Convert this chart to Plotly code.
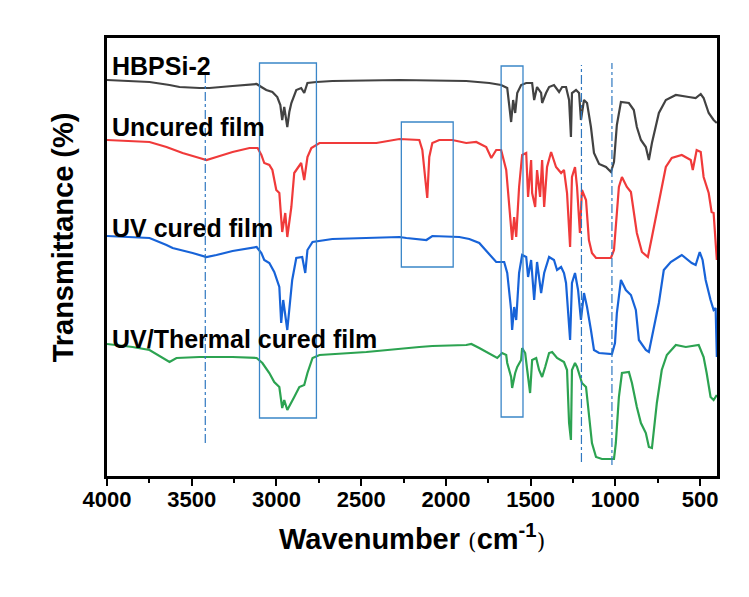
import plotly.graph_objects as go

# ---------------- data (wavenumber in cm-1, transmittance in arbitrary stacked units) -------------
hb_wn = [4000, 3749, 3631, 3572, 3454, 3395, 3259, 3117, 3089, 3060, 3024, 2995, 2977, 2966, 2954, 2936,
         2924, 2912, 2883, 2854, 2836, 2817, 2764, 2670, 2274, 1880, 1744, 1674, 1638, 1615, 1603, 1591,
         1579, 1556, 1526, 1491, 1479, 1462, 1438, 1432, 1409, 1391, 1362, 1332, 1314, 1291, 1273, 1262,
         1256, 1232, 1214, 1203, 1185, 1167, 1144, 1126, 1096, 1055, 1026, 1008, 991, 967, 920, 891, 873,
         849, 820, 802, 784, 743, 702, 643, 567, 526, 496, 479, 449, 420, 401]
hb_t = [397, 395, 392, 390, 389, 389, 391, 393, 390, 387, 385, 380, 372, 357, 370, 350,
        365, 374, 387, 389, 384, 394, 395, 396, 397, 396, 394, 392, 389, 355, 377, 364,
        384, 392, 394, 394, 377, 390, 384, 374, 384, 390, 392, 385, 390, 390, 377, 340,
        384, 387, 384, 357, 377, 374, 350, 324, 313, 310, 305, 315, 352, 375, 374, 367, 350,
        337, 330, 317, 334, 364, 377, 382, 380, 379, 383, 379, 364, 357, 354]

un_wn = [4000, 3749, 3649, 3554, 3454, 3413, 3354, 3259, 3159, 3111, 3089, 3072, 3042, 3024, 3001, 2983,
         2966, 2948, 2936, 2912, 2895, 2854, 2836, 2817, 2794, 2746, 2410, 2274, 2157, 2139, 2121, 2110,
         2098, 2080, 2039, 1962, 1880, 1821, 1762, 1732, 1703, 1674, 1644, 1627, 1609, 1597, 1585, 1568,
         1550, 1526, 1515, 1497, 1491, 1473, 1462, 1444, 1432, 1420, 1403, 1379, 1350, 1320, 1303, 1285,
         1267, 1256, 1238, 1226, 1209, 1197, 1173, 1156, 1138, 1114, 1026, 1008, 997, 979, 961, 932, 908,
         891, 873, 843, 808, 784, 743, 702, 667, 608, 555, 543, 520, 496, 479, 449, 432, 420, 401]
un_t = [337, 335, 330, 324, 319, 317, 320, 325, 329, 329, 322, 314, 312, 307, 287, 284,
        245, 264, 240, 270, 304, 314, 297, 320, 329, 334, 334, 338, 337, 327, 297, 279,
        320, 334, 337, 337, 334, 335, 330, 319, 327, 327, 307, 270, 237, 260, 240, 290,
        322, 324, 280, 317, 284, 270, 307, 280, 317, 270, 310, 325, 310, 304, 307, 284,
        230, 300, 310, 290, 244, 287, 277, 237, 224, 219, 219, 227, 254, 290, 300, 290, 285,
        267, 244, 225, 220, 240, 277, 310, 319, 322, 317, 307, 327, 325, 300, 284, 265, 264, 217]

uv_wn = [4000, 3749, 3649, 3613, 3495, 3413, 3354, 3259, 3117, 3089, 3072, 3042, 3013, 2983, 2972, 2960,
         2936, 2918, 2907, 2883, 2848, 2830, 2817, 2787, 2670, 2274, 2233, 2115, 2080, 1921, 1862, 1803,
         1756, 1744, 1703, 1656, 1638, 1615, 1609, 1597, 1585, 1568, 1550, 1526, 1515, 1497, 1479, 1462,
         1438, 1420, 1391, 1362, 1344, 1320, 1303, 1291, 1267, 1256, 1238, 1220, 1203, 1185, 1167, 1144,
         1126, 1096, 1020, 1002, 991, 967, 938, 908, 879, 861, 820, 802, 773, 743, 714, 673, 608, 549,
         526, 502, 485, 467, 438, 420, 408, 401]
uv_t = [241, 239, 232, 229, 224, 220, 222, 226, 230, 224, 217, 214, 205, 190, 154, 177,
        147, 177, 197, 219, 220, 204, 227, 235, 238, 240, 239, 237, 241, 240, 238, 234,
        225, 222, 215, 215, 204, 167, 147, 170, 157, 204, 222, 220, 200, 217, 177, 215,
        184, 204, 220, 217, 207, 210, 204, 194, 137, 194, 204, 187, 157, 184, 170, 147,
        127, 124, 123, 134, 164, 197, 187, 182, 167, 137, 127, 125, 150, 174, 207, 215, 222, 214,
        212, 225, 217, 197, 177, 167, 169, 120]

th_wn = [4000, 3849, 3749, 3678, 3631, 3590, 3454, 3259, 3117, 3083, 3042, 3013, 2983, 2966, 2954, 2936,
         2912, 2895, 2865, 2836, 2817, 2787, 2746, 2469, 2157, 2080, 1880, 1850, 1803, 1744, 1697, 1668,
         1644, 1638, 1615, 1609, 1591, 1579, 1556, 1550, 1532, 1520, 1503, 1491, 1467, 1450, 1432, 1414,
         1391, 1373, 1344, 1303, 1285, 1273, 1262, 1256, 1238, 1226, 1209, 1197, 1173, 1156, 1138, 1114,
         1079, 1008, 997, 979, 961, 920, 902, 873, 849, 820, 802, 784, 773, 755, 726, 696, 643, 584,
         508, 479, 461, 438, 420, 401]
th_t = [133, 130, 127, 120, 115, 119, 120, 120, 119, 114, 104, 95, 90, 69, 77, 67,
        74, 80, 90, 92, 104, 119, 122, 125, 130, 131, 132, 133, 129, 123, 119, 124,
        122, 114, 100, 89, 104, 110, 117, 129, 124, 107, 84, 117, 119, 107, 100, 110,
        124, 125, 119, 115, 107, 54, 37, 107, 114, 110, 100, 94, 90, 60, 34, 20,
        18, 18, 34, 80, 104, 105, 94, 70, 54, 44, 30, 29, 47, 74, 107, 122, 132, 130,
        132, 120, 104, 80, 77, 82]

series_names = ["HBPSi-2", "Uncured film", "UV cured film", "UV/Thermal cured film"]
series_colors = ["#424242", "#f03a3a", "#1763d8", "#2ca351"]
label_y = [411, 350, 249, 138]

# marker lines (dash-dot) : wavenumber, bottom, top
mark_wn = [3420, 1200, 1020]
mark_lo = [34, 15, 12]
mark_hi = [404, 412, 414]
# highlight boxes : wn left, wn right, bottom, top
box_x0 = [3100, 2263, 1674]
box_x1 = [2764, 1957, 1545]
box_y0 = [59, 210, 60]
box_y1 = [414, 355, 411]

FONT = "Liberation Sans, Arial, sans-serif"

fig = go.Figure()
for wn, t, name, col in zip([hb_wn, un_wn, uv_wn, th_wn], [hb_t, un_t, uv_t, th_t], series_names, series_colors):
    fig.add_trace(go.Scatter(x=wn, y=t, mode="lines", name=name,
                             line=dict(color=col, width=2.2), showlegend=False))

for w, lo, hi in zip(mark_wn, mark_lo, mark_hi):
    fig.add_shape(type="line", xref="x", yref="y", x0=w, x1=w, y0=lo, y1=hi,
                  line=dict(color="#2f78c0", width=1.2, dash="dashdot"))
for a, b, c, d in zip(box_x0, box_x1, box_y0, box_y1):
    fig.add_shape(type="rect", xref="x", yref="y", x0=a, x1=b, y0=c, y1=d,
                  line=dict(color="#3a86c8", width=1.3), fillcolor="rgba(0,0,0,0)")

for name, y in zip(series_names, label_y):
    fig.add_annotation(x=3985, y=y, xref="x", yref="y", text=name, showarrow=False,
                       xanchor="left", yanchor="middle",
                       font=dict(family=FONT, size=25, color="black", weight="bold"))

fig.add_annotation(x=-0.072, y=0.545, xref="paper", yref="paper", text="Transmittance (%)",
                   textangle=-90, showarrow=False, xanchor="center", yanchor="middle",
                   font=dict(family=FONT, size=29, color="black", weight="bold"))
fig.add_annotation(x=0.5, y=-0.14, xref="paper", yref="paper",
                   text="Wavenumber <span style='font-family:DejaVu Serif, serif;font-weight:normal;font-size:22px'>(</span>cm<sup>-1</sup><span style='font-family:DejaVu Serif, serif;font-weight:normal;font-size:22px'>)</span>",
                   showarrow=False, xanchor="center", yanchor="middle",
                   font=dict(family=FONT, size=29, color="black", weight="bold"))

fig.update_xaxes(range=[4000, 400], tickvals=[4000, 3500, 3000, 2500, 2000, 1500, 1000, 500],
                 ticks="outside", ticklen=7, tickwidth=2, tickcolor="black", ticklabelstandoff=-5,
                 minor=dict(dtick=250, tick0=0, ticks="outside", ticklen=4, tickwidth=2, tickcolor="black"),
                 showline=True, linecolor="black", linewidth=2.5, mirror=True,
                 showgrid=False, zeroline=False,
                 tickfont=dict(family=FONT, size=22, color="black", weight="bold"))
fig.update_yaxes(range=[1, 439], showticklabels=False, ticks="",
                 showline=True, linecolor="black", linewidth=2.5, mirror=True,
                 showgrid=False, zeroline=False)

fig.update_layout(width=749, height=597, margin=dict(l=107, r=32, t=38, b=121),
                  paper_bgcolor="white", plot_bgcolor="white")

fig.write_html("out.html")
